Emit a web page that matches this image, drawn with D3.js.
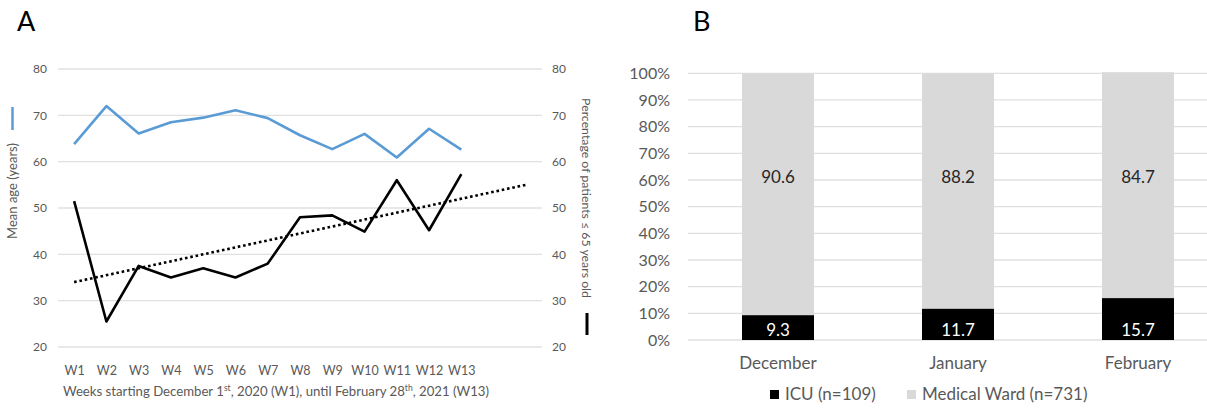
<!DOCTYPE html>
<html>
<head>
<meta charset="utf-8">
<script src="https://cdn.jsdelivr.net/npm/d3@7"></script>
<style>
  body { margin: 0; background: #fff; }
  svg text { font-family: Lato, "Open Sans", sans-serif; }
</style>
</head>
<body>
<div id="canvas"></div>
<script>
// ---- data (panel A) ----
var weeks = ["W1","W2","W3","W4","W5","W6","W7","W8","W9","W10","W11","W12","W13"];
var meanAge = [63.8, 72.0, 66.1, 68.5, 69.5, 71.1, 69.4, 65.7, 62.7, 66.0, 60.9, 67.1, 62.6];
var pctUnder65 = [51.5, 25.5, 37.5, 35.0, 37.0, 35.0, 38.0, 48.0, 48.4, 44.9, 56.0, 45.2, 57.3];
var trendWeeks = [1, 15];          // linear trendline, forecast 2 periods forward
var trendValues = [34.0, 55.0];
var ageTicks = [20, 30, 40, 50, 60, 70, 80];

// ---- data (panel B) ----
var months = ["December", "January", "February"];
var icu = [9.3, 11.7, 15.7];
var ward = [90.6, 88.2, 84.7];
var pctTicks = [0, 10, 20, 30, 40, 50, 60, 70, 80, 90, 100];
var legendLabels = ["ICU (n=109)", "Medical Ward (n=731)"];

var width = 1207, height = 409;
var grey = "#595959", grid = "#e0e0e0";
var svg = d3.select("#canvas").append("svg").attr("width", width).attr("height", height);

// panel letters
svg.append("text").attr("x", 17).attr("y", 31).style("font-size", "27px").style("fill", "#000").text("A");
svg.append("text").attr("x", 693).attr("y", 31).style("font-size", "27px").style("fill", "#000").text("B");

// ================= panel A =================
var x = d3.scaleLinear().domain([0.5, 15.5]).range([58, 542]);
var y = d3.scaleLinear().domain([20, 80]).range([347, 69]);
var yR = d3.scaleLinear().domain([20, 80]).range([347, 69]);

// gridlines
svg.append("g").selectAll("line").data(ageTicks).enter().append("line")
    .attr("x1", x.range()[0]).attr("x2", x.range()[1])
    .attr("y1", function(d) { return y(d); }).attr("y2", function(d) { return y(d); })
    .attr("stroke", grid).attr("stroke-width", 1.3);

var leftAxis = svg.append("g").attr("transform", "translate(52,0)")
    .call(d3.axisLeft(y).tickValues(ageTicks).tickSize(0).tickPadding(5));
leftAxis.select(".domain").remove();
leftAxis.selectAll("text").style("font-size", "12px").style("fill", grey).style("font-family", null);

var rightAxis = svg.append("g").attr("transform", "translate(547,0)")
    .call(d3.axisRight(yR).tickValues(ageTicks).tickSize(0).tickPadding(5));
rightAxis.select(".domain").remove();
rightAxis.selectAll("text").style("font-size", "12px").style("fill", grey).style("font-family", null);

var bottomAxis = svg.append("g").attr("transform", "translate(0,375)")
    .call(d3.axisBottom(x).tickValues(d3.range(1, weeks.length + 1))
        .tickFormat(function(d) { return weeks[d - 1]; }).tickSize(0));
bottomAxis.select(".domain").remove();
bottomAxis.selectAll("text").attr("y", 0).attr("dy", null)
    .style("font-size", "12.5px").style("fill", grey).style("font-family", null);

// x title with superscripts
var xt = svg.append("text").attr("x", 63).attr("y", 396).style("font-size", "13.2px").style("fill", grey);
xt.append("tspan").text("Weeks starting December 1");
xt.append("tspan").attr("dy", -5).style("font-size", "8.5px").text("st");
xt.append("tspan").attr("dy", 5).text(", 2020 (W1), until February 28");
xt.append("tspan").attr("dy", -5).style("font-size", "8.5px").text("th");
xt.append("tspan").attr("dy", 5).text(", 2021 (W13)");

// axis titles + series markers
svg.append("text").attr("transform", "translate(16.5,191) rotate(-90)")
    .attr("text-anchor", "middle").style("font-size", "13px").style("fill", grey).text("Mean age (years)");
svg.append("line").attr("x1", 12.5).attr("x2", 12.5).attr("y1", 107).attr("y2", 130)
    .attr("stroke", "#5b9bd5").attr("stroke-width", 2.5);

svg.append("text").attr("transform", "translate(582,198) rotate(90)")
    .attr("text-anchor", "middle").style("font-size", "12.3px").style("fill", grey)
    .text("Percentage of patients \u2264 65 years old");
svg.append("line").attr("x1", 587).attr("x2", 587).attr("y1", 313).attr("y2", 335)
    .attr("stroke", "#000").attr("stroke-width", 3);

// lines
var ageLine = d3.line().x(function(d, i) { return x(i + 1); }).y(function(d) { return y(d); });
var pctLine = d3.line().x(function(d, i) { return x(i + 1); }).y(function(d) { return yR(d); });

svg.append("path").datum(meanAge).attr("d", ageLine)
    .attr("fill", "none").attr("stroke", "#5b9bd5").attr("stroke-width", 2.6).attr("stroke-linejoin", "round");
svg.append("path").datum(pctUnder65).attr("d", pctLine)
    .attr("fill", "none").attr("stroke", "#000").attr("stroke-width", 2.6).attr("stroke-linejoin", "round");

var trend = trendWeeks.map(function(w, i) { return [w, trendValues[i]]; });
svg.append("path").datum(trend)
    .attr("d", d3.line().x(function(d) { return x(d[0]); }).y(function(d) { return yR(d[1]); }))
    .attr("fill", "none").attr("stroke", "#000").attr("stroke-width", 2.6).attr("stroke-dasharray", "2.6,2.8");

// ================= panel B =================
var xb = d3.scaleBand().domain(months).range([688, 1228]).paddingInner(0.6).paddingOuter(0.3);
var yb = d3.scaleLinear().domain([0, 100]).range([340, 73.3]);

svg.append("g").selectAll("line").data(pctTicks).enter().append("line")
    .attr("x1", 688).attr("x2", width)
    .attr("y1", function(d) { return yb(d); }).attr("y2", function(d) { return yb(d); })
    .attr("stroke", grid).attr("stroke-width", 1.3);

var bAxis = svg.append("g").attr("transform", "translate(670,0)")
    .call(d3.axisLeft(yb).tickValues(pctTicks).tickFormat(function(d) { return d + "%"; }).tickSize(0).tickPadding(0));
bAxis.select(".domain").remove();
bAxis.selectAll("text").style("font-size", "16px").style("fill", grey).style("font-family", null);

var mAxis = svg.append("g").attr("transform", "translate(0,369)")
    .call(d3.axisBottom(xb).tickSize(0));
mAxis.select(".domain").remove();
mAxis.selectAll("text").attr("y", 0).attr("dy", null)
    .style("font-size", "17px").style("fill", grey).style("font-family", null);

// stacked bars
svg.append("g").selectAll("rect").data(months).enter().append("rect")
    .attr("x", function(d) { return xb(d); }).attr("width", xb.bandwidth())
    .attr("y", function(d, i) { return yb(icu[i] + ward[i]); })
    .attr("height", function(d, i) { return yb(icu[i]) - yb(icu[i] + ward[i]); })
    .attr("fill", "#d9d9d9");
svg.append("g").selectAll("rect").data(months).enter().append("rect")
    .attr("x", function(d) { return xb(d); }).attr("width", xb.bandwidth())
    .attr("y", function(d, i) { return yb(icu[i]); })
    .attr("height", function(d, i) { return yb(0) - yb(icu[i]); })
    .attr("fill", "#000");

// value labels
svg.append("g").selectAll("text").data(months).enter().append("text")
    .attr("x", function(d) { return xb(d) + xb.bandwidth() / 2; })
    .attr("y", yb(61) + 6).attr("text-anchor", "middle")
    .style("font-size", "17px").style("fill", "#262626")
    .text(function(d, i) { return ward[i].toFixed(1); });
svg.append("g").selectAll("text").data(months).enter().append("text")
    .attr("x", function(d) { return xb(d) + xb.bandwidth() / 2; })
    .attr("y", yb(0) - 4).attr("text-anchor", "middle")
    .style("font-size", "17px").style("fill", "#fff")
    .text(function(d, i) { return icu[i].toFixed(1); });

// legend
var legendX = [770, 907], legendFill = ["#000", "#d9d9d9"];
legendLabels.forEach(function(l, i) {
    svg.append("rect").attr("x", legendX[i]).attr("y", 390).attr("width", 9).attr("height", 9).attr("fill", legendFill[i]);
    svg.append("text").attr("x", legendX[i] + 15).attr("y", 399.5)
        .style("font-size", "17px").style("fill", grey).text(l);
});
</script>
</body>
</html>
